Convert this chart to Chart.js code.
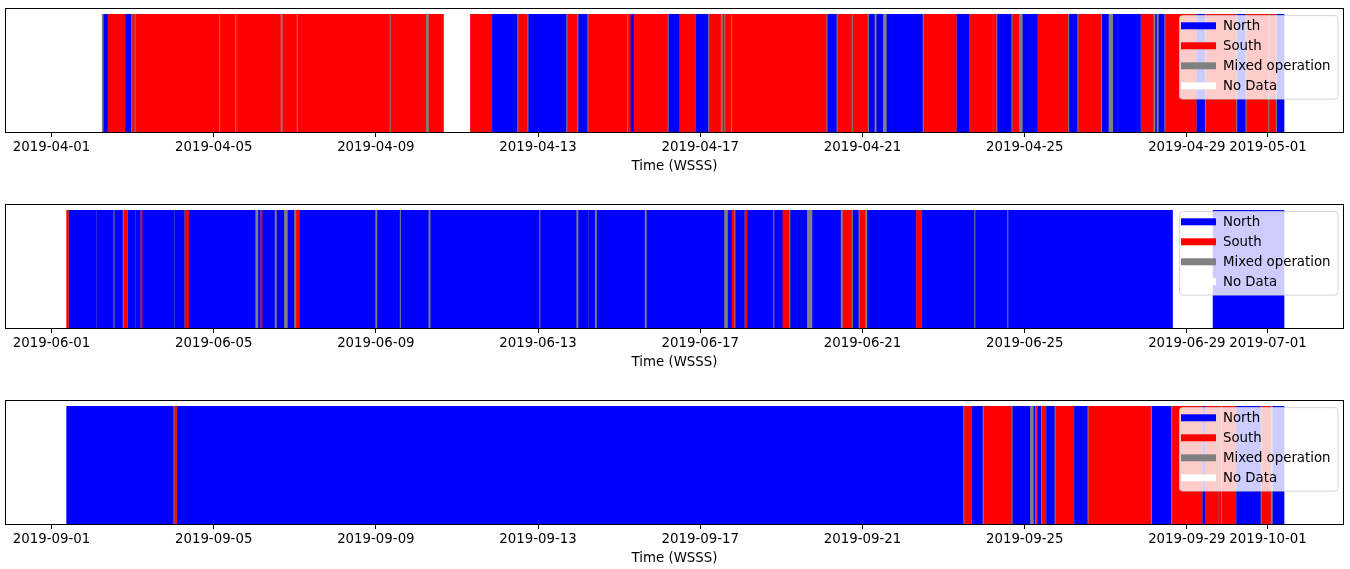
<!DOCTYPE html>
<html>
<head>
<meta charset="utf-8">
<script src="https://cdn.jsdelivr.net/npm/chart.js@4.4.1/dist/chart.umd.min.js"></script>
<style>
html, body { margin: 0; padding: 0; background: #fff; overflow: hidden; }
#wrap { position: relative; width: 1350px; height: 569px; overflow: hidden; }
.panel { position: absolute; left: 0; width: 1350px; height: 196px; }
</style>
</head>
<body>
<div id="wrap">
  <div class="panel" style="top:0"><canvas id="c0" width="1350" height="196"></canvas></div>
  <div class="panel" style="top:196px"><canvas id="c1" width="1350" height="196"></canvas></div>
  <div class="panel" style="top:392px"><canvas id="c2" width="1350" height="196"></canvas></div>
</div>
<script>
// runway operation modes, spans are [start hour, end hour, mode] from the 1st of the month 00:00
const modeNames = ['North', 'South', 'Mixed operation', 'No Data'];
const modeCodes = ['N', 'S', 'M', 'X'];
const modeColors = ['#0000ff', '#ff0000', '#808080', '#ffffff'];

const tickHours = [0, 96, 192, 288, 384, 480, 576, 672, 720];
const aprilTicks = ['2019-04-01', '2019-04-05', '2019-04-09', '2019-04-13', '2019-04-17', '2019-04-21', '2019-04-25', '2019-04-29', '2019-05-01'];
const juneTicks = ['2019-06-01', '2019-06-05', '2019-06-09', '2019-06-13', '2019-06-17', '2019-06-21', '2019-06-25', '2019-06-29', '2019-07-01'];
const septTicks = ['2019-09-01', '2019-09-05', '2019-09-09', '2019-09-13', '2019-09-17', '2019-09-21', '2019-09-25', '2019-09-29', '2019-10-01'];

const aprilSpans = [
  [8,30,'X'],[30,31,'M'],[31,33,'N'],[33,44,'S'],[44,47,'N'],[47,48,'M'],[48,49,'S'],[49,50,'M'],
  [50,99,'S'],[99,100,'M'],[100,108.5,'S'],[108.5,109.5,'M'],[109.5,110,'S'],[110,110.5,'M'],
  [110.5,135.5,'S'],[135.5,137,'M'],[137,145,'S'],[145,146,'M'],[146,200,'S'],[200,201,'M'],
  [201,221.5,'S'],[221.5,223.5,'M'],[223.5,232,'S'],[232,248,'X'],[248,260.5,'S'],[260.5,261,'M'],
  [261,275.5,'N'],[275.5,276.5,'M'],[276.5,281.5,'S'],[281.5,282.5,'M'],[282.5,304.5,'N'],
  [304.5,305.5,'M'],[305.5,311,'S'],[311,312,'M'],[312,317,'N'],[317,318,'M'],[318,340.5,'S'],
  [340.5,341.5,'M'],[341.5,343,'S'],[343,344.5,'N'],[344.5,364.5,'S'],[364.5,365.5,'M'],
  [365.5,371.5,'N'],[371.5,372,'M'],[372,381,'S'],[381,381.5,'M'],[381.5,388.5,'N'],[388.5,389.5,'M'],
  [389.5,396,'S'],[396,397.5,'M'],[397.5,398,'S'],[398,399,'M'],[399,402,'S'],[402,403,'M'],
  [403,458.5,'S'],[458.5,459.5,'M'],[459.5,464.5,'N'],[464.5,465.5,'M'],[465.5,473.5,'S'],
  [473.5,474.5,'M'],[474.5,483,'S'],[483,484,'M'],[484,487,'N'],[487,488.5,'M'],[488.5,492,'N'],
  [492,494.5,'M'],[494.5,515.5,'N'],[515.5,516.5,'M'],[516.5,535.5,'S'],[535.5,536,'M'],[536,543,'N'],
  [543,543.5,'M'],[543.5,557,'S'],[557,557.5,'M'],[557.5,559,'S'],[559,560,'M'],[560,568,'N'],
  [568,569,'M'],[569,572.5,'S'],[572.5,575,'M'],[575,583.5,'N'],[583.5,584,'M'],[584,601.5,'S'],
  [601.5,602.5,'M'],[602.5,607,'N'],[607,608,'M'],[608,621,'S'],[621,622,'M'],[622,625.5,'N'],
  [625.5,628.5,'M'],[628.5,631,'N'],[631,631.5,'M'],[631.5,644.5,'N'],[644.5,645,'M'],[645,652,'S'],
  [652,653.5,'M'],[653.5,654,'N'],[654,655.5,'M'],[655.5,658.5,'N'],[658.5,659.5,'M'],[659.5,677.5,'S'],
  [677.5,678,'M'],[678,682.5,'N'],[682.5,683.5,'M'],[683.5,701,'S'],[701,702,'M'],[702,706.5,'N'],
  [706.5,707.5,'M'],[707.5,720,'S'],[720,721,'M'],[721,724.5,'S'],[724.5,725.5,'M'],[725.5,729.5,'N']
];

const juneSpans = [
  [8,9,'X'],[9,10,'S'],[10,10.5,'M'],[10.5,26.5,'N'],[26.5,27,'M'],[27,36.5,'N'],[36.5,37.5,'M'],
  [37.5,42,'N'],[42,43,'M'],[43,45,'S'],[45,45.5,'M'],[45.5,49.5,'N'],[49.5,50,'M'],[50,52.5,'N'],
  [52.5,53,'M'],[53,54,'S'],[54,72.5,'N'],[72.5,73,'M'],[73,78.5,'N'],[78.5,79,'M'],[79,81.5,'S'],
  [81.5,120.5,'N'],[120.5,122.5,'M'],[122.5,123.5,'N'],[123.5,124,'M'],[124,125,'S'],[125,132,'N'],
  [132,133.5,'M'],[133.5,137.5,'N'],[137.5,140,'M'],[140,143.5,'N'],[143.5,145,'M'],[145,146.5,'S'],
  [146.5,147,'M'],[147,191.5,'N'],[191.5,193,'M'],[193,206,'N'],[206,207,'M'],[207,223,'N'],
  [223,224.5,'M'],[224.5,288.5,'N'],[288.5,289.5,'M'],[289.5,310.5,'N'],[310.5,312,'M'],[312,317.5,'N'],
  [317.5,318,'M'],[318,321.5,'N'],[321.5,323,'M'],[323,351,'N'],[351,352.5,'M'],[352.5,398,'N'],
  [398,400.5,'M'],[400.5,402.5,'N'],[402.5,404,'S'],[404,405,'M'],[405,410,'N'],[410,410.5,'M'],
  [410.5,411.5,'S'],[411.5,412,'M'],[412,427,'N'],[427,428,'M'],[428,432.5,'N'],[432.5,436.5,'S'],
  [436.5,437.5,'M'],[437.5,447,'N'],[447,450.5,'M'],[450.5,467,'N'],[467,468.5,'M'],[468.5,473.5,'S'],
  [473.5,474.5,'M'],[474.5,477.5,'N'],[477.5,478.5,'M'],[478.5,481.5,'S'],[481.5,483,'M'],
  [483,511.5,'N'],[511.5,512,'M'],[512,515,'S'],[515,515.5,'M'],[515.5,546,'N'],[546,547,'M'],
  [547,565.5,'N'],[565.5,566.5,'M'],[566.5,663.5,'N'],[663.5,687.5,'X'],[687.5,729.5,'N']
];

const septSpans = [
  [8,9,'X'],[9,72,'N'],[72,73,'M'],[73,74,'S'],[74,74.5,'M'],[74.5,539.5,'N'],[539.5,540.5,'M'],
  [540.5,544.5,'S'],[544.5,545,'M'],[545,551,'N'],[551,552,'M'],[552,568,'S'],[568,569,'M'],
  [569,579,'N'],[579,581.5,'M'],[581.5,582,'N'],[582,583,'M'],[583,584,'S'],[584,585.5,'N'],
  [585.5,586.5,'M'],[586.5,588.5,'S'],[588.5,589,'M'],[589,593.5,'N'],[593.5,594.5,'M'],
  [594.5,605,'S'],[605,605.5,'M'],[605.5,613,'N'],[613,614,'M'],[614,650.5,'S'],[650.5,651.5,'M'],
  [651.5,662.5,'N'],[662.5,663.5,'M'],[663.5,681,'S'],[681,681.5,'M'],[681.5,682.5,'N'],
  [682.5,690.5,'S'],[690.5,691,'M'],[691,692,'S'],[692,693,'M'],[693,701,'S'],[701,701.5,'M'],
  [701.5,715.5,'N'],[715.5,716.5,'M'],[716.5,721.5,'S'],[721.5,723,'M'],[723,729.5,'N']
];

const FONT = { family: 'DejaVu Sans', size: 13.33 };

// axes box (matplotlib leaves 5% headroom above the bars)
const framePlugin = {
  id: 'frame',
  afterDatasetsDraw(chart) {
    const { ctx, chartArea: a } = chart;
    const top = Math.round(a.top - (a.bottom - a.top) * 0.05);
    ctx.save();
    ctx.strokeStyle = '#000';
    ctx.lineWidth = 1;
    ctx.strokeRect(Math.round(a.left) + 0.5, top + 0.5, Math.round(a.right - a.left) - 1, Math.round(a.bottom) - top);
    ctx.restore();
  }
};

// legend inside the upper right corner, like loc='upper right'
const legendPlugin = {
  id: 'innerLegend',
  afterDraw(chart) {
    const { ctx, chartArea: a } = chart;
    const frameTop = a.top - (a.bottom - a.top) * 0.05;
    const w = 158.5, h = 83.5;
    const x0 = a.right - 6.5 - w, y0 = frameTop + 7;
    ctx.save();
    ctx.beginPath();
    ctx.roundRect(x0 + 0.5, y0 + 0.5, w, h, 3);
    ctx.fillStyle = 'rgba(255,255,255,0.8)';
    ctx.fill();
    ctx.strokeStyle = 'rgba(204,204,204,0.8)';
    ctx.lineWidth = 1;
    ctx.stroke();
    ctx.font = FONT.size + 'px "' + FONT.family + '"';
    ctx.textBaseline = 'alphabetic';
    ctx.textAlign = 'left';
    modeNames.forEach((name, i) => {
      const cy = y0 + 10.7 + 20 * i;
      ctx.fillStyle = modeColors[i];
      ctx.fillRect(x0 + 2, cy - 3.5, 35, 7);
      ctx.fillStyle = '#000';
      ctx.fillText(name, x0 + 44, cy + 4.5);
    });
    ctx.restore();
  }
};

function makeChart(id, spans, tickLabels) {
  const datasets = modeNames.map((name, k) => ({
    label: name,
    data: spans.filter(s => s[2] === modeCodes[k]).map(s => ({ x: [s[0], s[1]], y: 'ops' })),
    backgroundColor: modeColors[k],
    borderWidth: 0,
    grouped: false,
    barPercentage: 1,
    categoryPercentage: 1
  }));

  return new Chart(document.getElementById(id), {
    type: 'bar',
    data: { labels: ['ops'], datasets },
    options: {
      indexAxis: 'y',
      responsive: false,
      animation: false,
      devicePixelRatio: 1,
      layout: { padding: { left: 5, right: 6, top: 14, bottom: 0 } },
      plugins: { legend: { display: false }, tooltip: { enabled: false } },
      scales: {
        x: {
          type: 'linear',
          min: -27.5,
          max: 765,
          afterBuildTicks: scale => { scale.ticks = tickHours.map(v => ({ value: v })); },
          afterFit: scale => { scale.height = 64; },
          ticks: {
            callback: (v, i) => tickLabels[i],
            autoSkip: false,
            maxRotation: 0,
            color: '#000',
            font: FONT,
            padding: 3
          },
          grid: { display: true, drawOnChartArea: false, drawTicks: true, tickLength: 5, color: '#000', lineWidth: 1 },
          border: { display: false },
          title: { display: true, text: 'Time (WSSS)', color: '#000', font: FONT, padding: { top: 1, bottom: 21 } }
        },
        y: { type: 'category', display: false }
      }
    },
    plugins: [framePlugin, legendPlugin]
  });
}

makeChart('c0', aprilSpans, aprilTicks);
makeChart('c1', juneSpans, juneTicks);
makeChart('c2', septSpans, septTicks);
</script>
</body>
</html>
